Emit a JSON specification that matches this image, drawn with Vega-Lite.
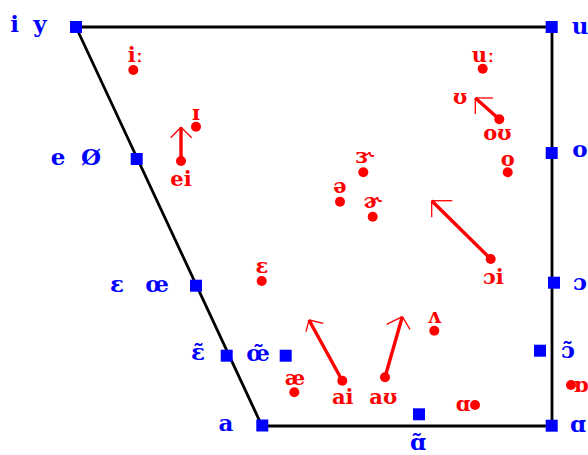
{
  "$schema": "https://vega.github.io/schema/vega-lite/v6.json",
  "width": 588,
  "height": 455,
  "autosize": {"type": "none"},
  "padding": 0,
  "background": "white",
  "config": {"view": {"stroke": null}, "axis": {"disable": true}},
  "datasets": {
    "frame": [
      {"corner": "i", "x": 76, "y": 27, "ord": 1},
      {"corner": "u", "x": 552, "y": 27, "ord": 2},
      {"corner": "ɑ", "x": 552, "y": 426, "ord": 3},
      {"corner": "a", "x": 262, "y": 426, "ord": 4},
      {"corner": "i", "x": 76, "y": 27, "ord": 5}
    ],
    "cardinal": [
      {"v": "i y", "x": 76, "y": 27},
      {"v": "u", "x": 551.7, "y": 27},
      {"v": "e ø", "x": 136.7, "y": 159},
      {"v": "o", "x": 551.7, "y": 153},
      {"v": "ɛ œ", "x": 196, "y": 285.7},
      {"v": "ɔ", "x": 554, "y": 282.7},
      {"v": "ɛ̃", "x": 226.7, "y": 355.7},
      {"v": "œ̃", "x": 285.7, "y": 355.7},
      {"v": "ɔ̃", "x": 540, "y": 350.7},
      {"v": "a", "x": 262.3, "y": 425.5},
      {"v": "ɑ", "x": 551.7, "y": 425.7},
      {"v": "ɑ̃", "x": 419, "y": 414.3}
    ],
    "cardinalLabels": [
      {"t": "i", "x": 14.5, "y": 25},
      {"t": "y", "x": 40, "y": 25},
      {"t": "u", "x": 580, "y": 27},
      {"t": "e", "x": 58, "y": 158},
      {"t": "Ø", "x": 91, "y": 158},
      {"t": "o", "x": 580, "y": 150},
      {"t": "ɛ", "x": 117, "y": 285},
      {"t": "œ", "x": 157, "y": 285},
      {"t": "ɔ", "x": 580, "y": 283},
      {"t": "ɛ̃", "x": 198, "y": 353},
      {"t": "œ̃", "x": 258, "y": 354},
      {"t": "ɔ̃", "x": 568, "y": 351},
      {"t": "a", "x": 226, "y": 424},
      {"t": "ɑ", "x": 578, "y": 425},
      {"t": "ɑ̃", "x": 418, "y": 443}
    ],
    "english": [
      {"v": "iː", "x": 133.3, "y": 70},
      {"v": "ɪ", "x": 196, "y": 126.7},
      {"v": "ei", "x": 181, "y": 161},
      {"v": "uː", "x": 482.7, "y": 68.7},
      {"v": "oʊ", "x": 499.3, "y": 119.3},
      {"v": "o", "x": 507.7, "y": 172.3},
      {"v": "ɝ", "x": 363.3, "y": 172.3},
      {"v": "ə", "x": 340, "y": 201.7},
      {"v": "ɚ", "x": 372.7, "y": 216.7},
      {"v": "ɔi", "x": 490.7, "y": 259},
      {"v": "ɛ", "x": 261.7, "y": 281},
      {"v": "ʌ", "x": 434.3, "y": 330.7},
      {"v": "æ", "x": 294.3, "y": 392.3},
      {"v": "ai", "x": 342.3, "y": 380.7},
      {"v": "aʊ", "x": 385, "y": 377.3},
      {"v": "ɑ", "x": 475, "y": 405},
      {"v": "ɒ", "x": 571, "y": 385}
    ],
    "englishLabels": [
      {"t": "iː", "x": 135.5, "y": 56},
      {"t": "ɪ", "x": 196, "y": 114},
      {"t": "ei", "x": 181, "y": 180},
      {"t": "uː", "x": 483.3, "y": 56},
      {"t": "ʊ", "x": 460, "y": 98},
      {"t": "oʊ", "x": 497.3, "y": 134},
      {"t": "o", "x": 507.7, "y": 160},
      {"t": "ɝ", "x": 365, "y": 157},
      {"t": "ə", "x": 340, "y": 187},
      {"t": "ɚ", "x": 372.7, "y": 202},
      {"t": "ɔi", "x": 493.3, "y": 278},
      {"t": "ɛ", "x": 262, "y": 267},
      {"t": "ʌ", "x": 434.3, "y": 317},
      {"t": "æ", "x": 295, "y": 379},
      {"t": "ai", "x": 342.7, "y": 398},
      {"t": "aʊ", "x": 383.3, "y": 398},
      {"t": "ɑ", "x": 463, "y": 405},
      {"t": "ɒ", "x": 581, "y": 386}
    ],
    "shafts": [
      {"d": "ei", "x": 181, "y": 161, "x2": 181, "y2": 127.3},
      {"d": "oʊ", "x": 499.3, "y": 119.3, "x2": 475.3, "y2": 98},
      {"d": "ɔi", "x": 490.7, "y": 259, "x2": 431.7, "y2": 200.7},
      {"d": "ai", "x": 342.3, "y": 380.7, "x2": 309, "y2": 320},
      {"d": "aʊ", "x": 385, "y": 377.3, "x2": 402.3, "y2": 316.7}
    ],
    "heads": [
      {"d": "ei", "x": 181, "y": 127.3, "x2": 170.7, "y2": 137.7},
      {"d": "ei", "x": 181, "y": 127.3, "x2": 191.7, "y2": 137.7},
      {"d": "oʊ", "x": 475.3, "y": 98, "x2": 493, "y2": 98},
      {"d": "oʊ", "x": 475.3, "y": 98, "x2": 475.3, "y2": 114},
      {"d": "ɔi", "x": 431.7, "y": 200.7, "x2": 452.3, "y2": 200.7},
      {"d": "ɔi", "x": 431.7, "y": 200.7, "x2": 431.7, "y2": 217.3},
      {"d": "ai", "x": 309, "y": 320, "x2": 323.3, "y2": 323.3},
      {"d": "ai", "x": 309, "y": 320, "x2": 306, "y2": 331.7},
      {"d": "aʊ", "x": 402.3, "y": 316.7, "x2": 386.7, "y2": 324.3},
      {"d": "aʊ", "x": 402.3, "y": 316.7, "x2": 410, "y2": 329.3}
    ]
  },
  "layer": [
    {
      "data": {"name": "frame"},
      "mark": {"type": "line", "color": "black", "strokeWidth": 2.8},
      "encoding": {
        "x": {"field": "x", "type": "quantitative", "scale": {"domain": [0, 588], "nice": false, "zero": false}},
        "y": {"field": "y", "type": "quantitative", "scale": {"domain": [0, 455], "nice": false, "zero": false, "reverse": true}},
        "order": {"field": "ord"}
      }
    },
    {
      "data": {"name": "shafts"},
      "mark": {"type": "rule", "color": "#ff0000", "strokeWidth": 3.4},
      "encoding": {
        "x": {"field": "x", "type": "quantitative", "scale": {"domain": [0, 588], "nice": false, "zero": false}},
        "y": {"field": "y", "type": "quantitative", "scale": {"domain": [0, 455], "nice": false, "zero": false, "reverse": true}},
        "x2": {"field": "x2"},
        "y2": {"field": "y2"}
      }
    },
    {
      "data": {"name": "heads"},
      "mark": {"type": "rule", "color": "#ff0000", "strokeWidth": 1.3},
      "encoding": {
        "x": {"field": "x", "type": "quantitative", "scale": {"domain": [0, 588], "nice": false, "zero": false}},
        "y": {"field": "y", "type": "quantitative", "scale": {"domain": [0, 455], "nice": false, "zero": false, "reverse": true}},
        "x2": {"field": "x2"},
        "y2": {"field": "y2"}
      }
    },
    {
      "data": {"name": "english"},
      "mark": {"type": "circle", "color": "#ff0000", "opacity": 1, "size": 100},
      "encoding": {
        "x": {"field": "x", "type": "quantitative", "scale": {"domain": [0, 588], "nice": false, "zero": false}},
        "y": {"field": "y", "type": "quantitative", "scale": {"domain": [0, 455], "nice": false, "zero": false, "reverse": true}}
      }
    },
    {
      "data": {"name": "cardinal"},
      "mark": {"type": "square", "color": "#0000ff", "opacity": 1, "size": 144, "filled": true},
      "encoding": {
        "x": {"field": "x", "type": "quantitative", "scale": {"domain": [0, 588], "nice": false, "zero": false}},
        "y": {"field": "y", "type": "quantitative", "scale": {"domain": [0, 455], "nice": false, "zero": false, "reverse": true}}
      }
    },
    {
      "data": {"name": "cardinalLabels"},
      "mark": {"type": "text", "color": "#0000ff", "font": "DejaVu Serif", "fontWeight": "bold", "fontSize": 23, "align": "center", "baseline": "middle"},
      "encoding": {
        "x": {"field": "x", "type": "quantitative", "scale": {"domain": [0, 588], "nice": false, "zero": false}},
        "y": {"field": "y", "type": "quantitative", "scale": {"domain": [0, 455], "nice": false, "zero": false, "reverse": true}},
        "text": {"field": "t"}
      }
    },
    {
      "data": {"name": "englishLabels"},
      "mark": {"type": "text", "color": "#ff0000", "font": "DejaVu Serif", "fontWeight": "bold", "fontSize": 21, "align": "center", "baseline": "middle"},
      "encoding": {
        "x": {"field": "x", "type": "quantitative", "scale": {"domain": [0, 588], "nice": false, "zero": false}},
        "y": {"field": "y", "type": "quantitative", "scale": {"domain": [0, 455], "nice": false, "zero": false, "reverse": true}},
        "text": {"field": "t"}
      }
    }
  ]
}
